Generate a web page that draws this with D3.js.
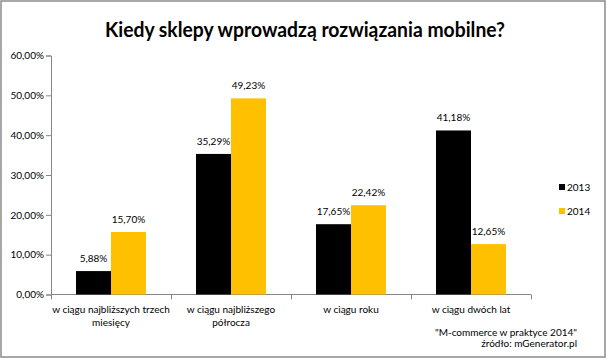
<!DOCTYPE html>
<html><head><meta charset="utf-8">
<script src="https://cdn.jsdelivr.net/npm/d3@7"></script>
<style>body{margin:0;background:#fff}svg{display:block;font-family:Lato,"Open Sans",sans-serif}</style>
</head><body>
<svg id="c" width="607" height="359"></svg>
<script>
const categories = [["w ciągu najbliższych trzech","miesięcy"],["w ciągu najbliższego","półrocza"],["w ciągu roku"],["w ciągu dwóch lat"]];
const seriesNames = ["2013","2014"];
const values2013 = [5.88, 35.29, 17.65, 41.18];
const values2014 = [15.70, 49.23, 22.42, 12.65];
const yTicks = [0,10,20,30,40,50,60];
const colors = ["#000000","#FFC000"];
const title = "Kiedy sklepy wprowadzą rozwiązania mobilne?";
const sourceLines = ['"M-commerce w praktyce 2014"', "źródło: mGenerator.pl"];

const svg = d3.select("#c");
svg.append("rect").attr("x",1).attr("y",1).attr("width",604).attr("height",356)
  .attr("fill","#fff").attr("stroke","#8a8a8a").attr("stroke-width",1.5);

svg.append("text").attr("x",305).attr("y",37).attr("text-anchor","middle")
  .attr("font-size",21).attr("font-weight","bold").attr("textLength",400)
  .attr("lengthAdjust","spacingAndGlyphs").text(title);

const x0 = d3.scaleBand().domain(d3.range(categories.length)).range([51,531]).paddingInner(0).paddingOuter(0);
const x1 = d3.scaleBand().domain(seriesNames).range([25, 95]);
const y = d3.scaleLinear().domain([0,60]).range([294.5,55.5]);

const fmt = v => d3.format(".2f")(v).replace(".",",") + "%";

// y axis
const yAxis = svg.append("g").attr("transform","translate(51,0)")
  .call(d3.axisLeft(y).tickValues(yTicks).tickSize(5).tickFormat(v=>fmt(v)));
yAxis.selectAll("path,line").attr("stroke","#868686");
yAxis.selectAll("text").attr("font-size",10).attr("font-family","Lato").attr("fill","#000").attr("x",-7);

// x axis
const xAxisG = svg.append("g").attr("transform","translate(0,294.5)");
xAxisG.append("line").attr("x1",51).attr("x2",531).attr("stroke","#868686");
const tickXs = d3.range(categories.length+1).map(i => i<categories.length ? x0(i) : x0(i-1)+x0.bandwidth());
xAxisG.selectAll(".t").data(tickXs).join("line").attr("x1",d=>Math.round(d)+0.5).attr("x2",d=>Math.round(d)+0.5)
  .attr("y1",0).attr("y2",5).attr("stroke","#868686");
categories.forEach((lines,i)=>{
  const t = svg.append("text").attr("x",x0(i)+x0.bandwidth()/2).attr("y",313).attr("text-anchor","middle")
    .attr("font-size",10);
  lines.forEach((l,j)=>t.append("tspan").attr("x",x0(i)+x0.bandwidth()/2).attr("dy",j?13:0).text(l));
});

const data = categories.map((c,i)=>[values2013[i], values2014[i]]);
data.forEach((vals,i)=>{
  vals.forEach((v,s)=>{
    const bx = x0(i)+x1(seriesNames[s]);
    svg.append("rect").attr("x",bx).attr("y",y(v)).attr("width",x1.bandwidth()).attr("height",y(0)-y(v))
      .attr("fill",colors[s]);
    svg.append("text").attr("x",bx+x1.bandwidth()/2).attr("y",y(v)-9).attr("text-anchor","middle")
      .attr("font-size",10).text(fmt(v));
  });
});

// legend
seriesNames.forEach((n,i)=>{
  const ly = 187 + i*24;
  svg.append("rect").attr("x",559).attr("y",ly-3).attr("width",6).attr("height",6).attr("fill",colors[i]);
  svg.append("text").attr("x",567).attr("y",ly+4).attr("font-size",10).text(n);
});

sourceLines.forEach((l,i)=>{
  svg.append("text").attr("x",577).attr("y",336+i*10.5).attr("text-anchor","end").attr("font-size",10).text(l);
});
</script>
</body></html>
